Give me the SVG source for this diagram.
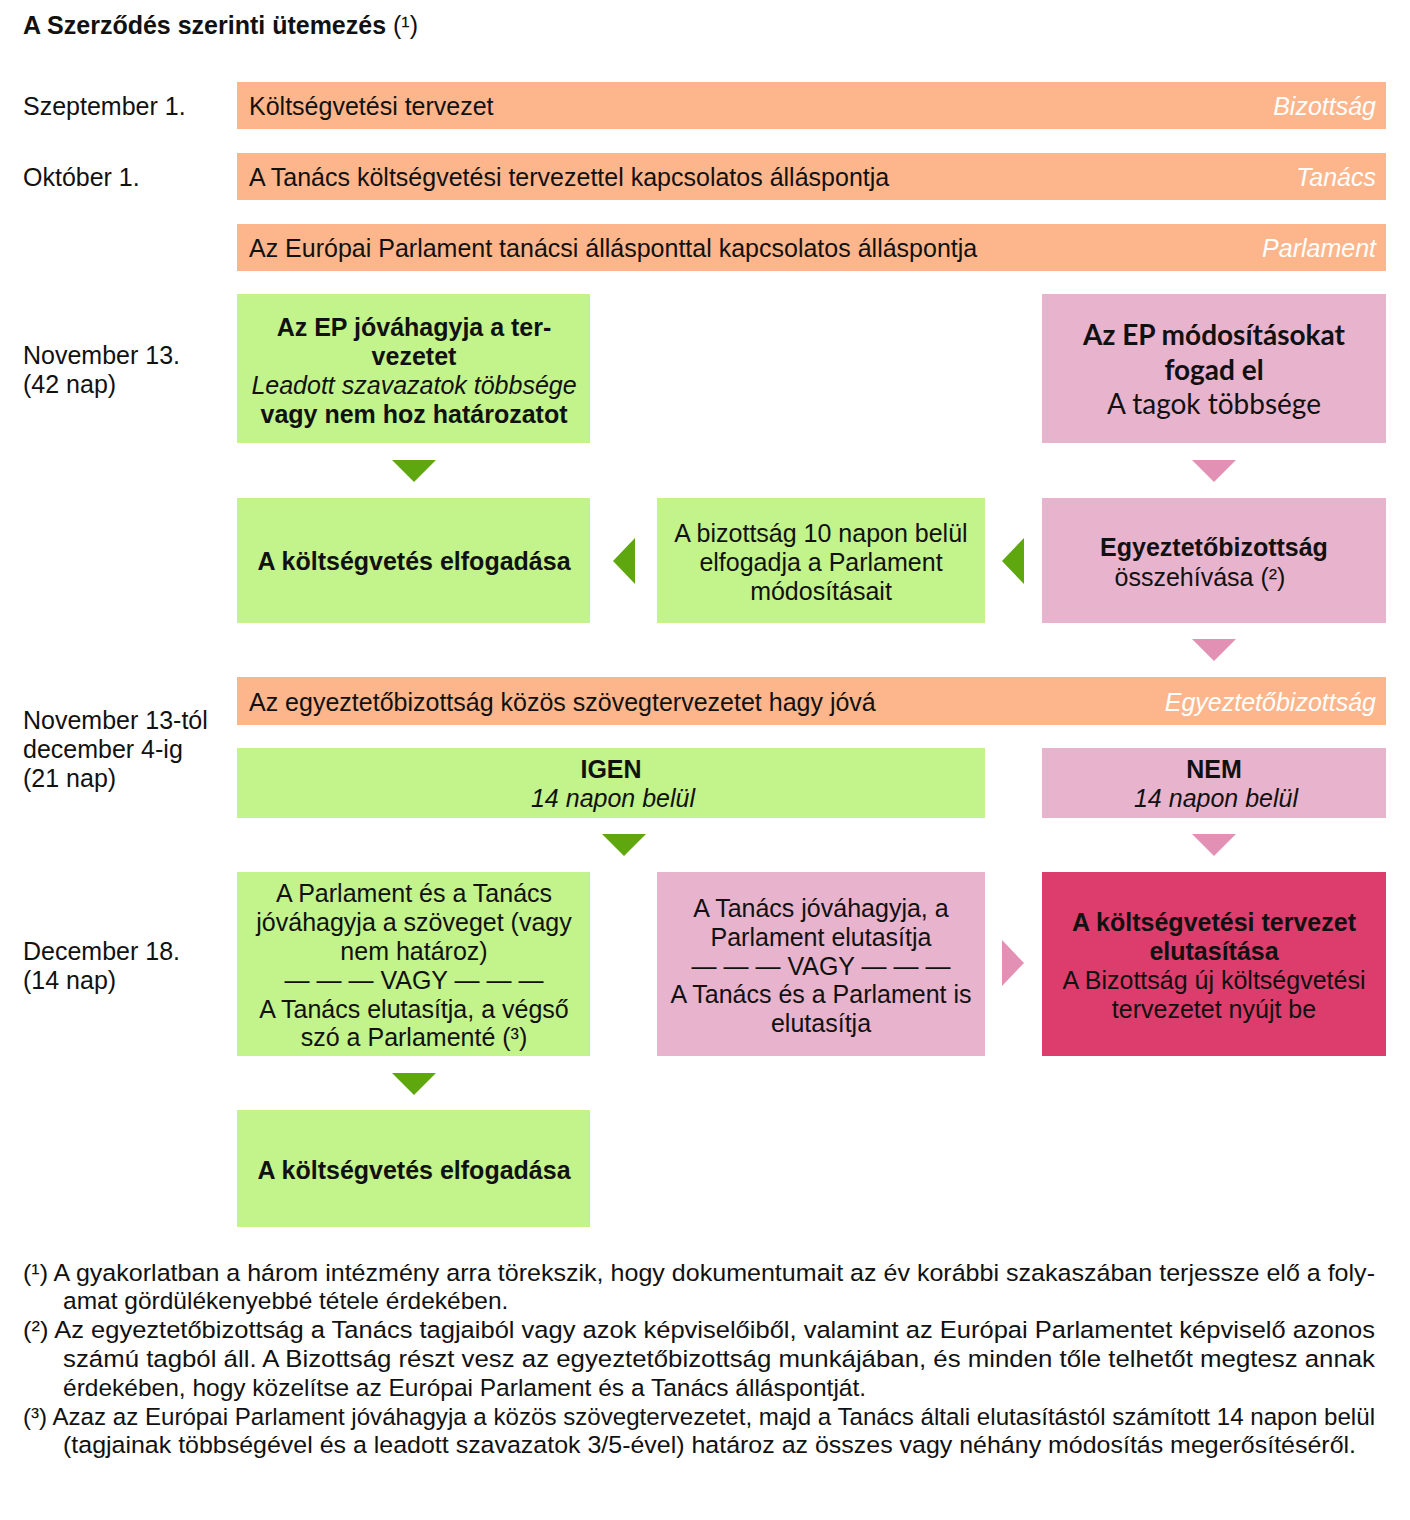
<svg xmlns="http://www.w3.org/2000/svg" width="1410" height="1520" viewBox="0 0 1410 1520">
<style>
text{font-family:"Liberation Sans",Arial,sans-serif;font-size:25px;fill:#111}
.b{font-weight:bold}
.i{font-style:italic}
.c{text-anchor:middle}
.r{text-anchor:end;font-style:italic;fill:#fff}
.cal{font-family:Lato,"Open Sans",sans-serif;font-size:28px}
.fn{font-size:24.5px}
.or{fill:#FDB68B}
.gr{fill:#C3F38B}
.pk{fill:#E8B3CC}
.rd{fill:#DC3D6C}
.ga{fill:#5EA70E}
.pa{fill:#E290B3}
</style>
<rect width="1410" height="1520" fill="#fff"/>
<text x="23" y="34" class="b">A Szerződés szerinti ütemezés<tspan font-weight="normal"> (¹)</tspan></text>

<g id="labels">
<text x="23" y="115">Szeptember 1.</text>
<text x="23" y="186">Október 1.</text>
<text x="23" y="364">November 13.</text>
<text x="23" y="393">(42 nap)</text>
<text x="23" y="729">November 13-tól</text>
<text x="23" y="758">december 4-ig</text>
<text x="23" y="787">(21 nap)</text>
<text x="23" y="960">December 18.</text>
<text x="23" y="989">(14 nap)</text>
</g>

<g id="n1"><rect class="or" x="237" y="82" width="1149" height="47"/><text x="249" y="115">Költségvetési tervezet</text><text x="1376" y="115" class="r">Bizottság</text></g>
<g id="n2"><rect class="or" x="237" y="153" width="1149" height="47"/><text x="249" y="186">A Tanács költségvetési tervezettel kapcsolatos álláspontja</text><text x="1376" y="186" class="r">Tanács</text></g>
<g id="n3"><rect class="or" x="237" y="224" width="1149" height="47"/><text x="249" y="257">Az Európai Parlament tanácsi állásponttal kapcsolatos álláspontja</text><text x="1376" y="257" class="r">Parlament</text></g>

<g id="n4"><rect class="gr" x="237" y="294" width="353" height="149"/>
<text x="414" y="336" class="c b">Az EP jóváhagyja a ter-</text>
<text x="414" y="365" class="c b">vezetet</text>
<text x="414" y="394" class="c i">Leadott szavazatok többsége</text>
<text x="414" y="423" class="c b">vagy nem hoz határozatot</text></g>

<g id="n5"><rect class="pk" x="1042" y="294" width="344" height="149"/>
<text x="1214" y="345" class="c b cal">Az EP módosításokat</text>
<text x="1214" y="380" class="c b cal">fogad el</text>
<text x="1214" y="414" class="c cal">A tagok többsége</text></g>

<g id="n6"><rect class="gr" x="237" y="498" width="353" height="125"/>
<text x="414" y="570" class="c b">A költségvetés elfogadása</text></g>

<g id="n7"><rect class="gr" x="657" y="498" width="328" height="125"/>
<text x="821" y="542" class="c">A bizottság 10 napon belül</text>
<text x="821" y="571" class="c">elfogadja a Parlament</text>
<text x="821" y="600" class="c">módosításait</text></g>

<g id="n8"><rect class="pk" x="1042" y="498" width="344" height="125"/>
<text x="1214" y="556" class="c b">Egyeztetőbizottság</text>
<text x="1200" y="586" class="c">összehívása (²)</text></g>

<g id="n9"><rect class="or" x="237" y="677" width="1149" height="48"/><text x="249" y="711">Az egyeztetőbizottság közös szövegtervezetet hagy jóvá</text><text x="1376" y="711" class="r">Egyeztetőbizottság</text></g>

<g id="n10"><rect class="gr" x="237" y="748" width="748" height="70"/>
<text x="611" y="778" class="c b">IGEN</text>
<text x="613" y="807" class="c i">14 napon belül</text></g>

<g id="n11"><rect class="pk" x="1042" y="748" width="344" height="70"/>
<text x="1214" y="778" class="c b">NEM</text>
<text x="1216" y="807" class="c i">14 napon belül</text></g>

<g id="n12"><rect class="gr" x="237" y="872" width="353" height="184"/>
<text x="414" y="902" class="c">A Parlament és a Tanács</text>
<text x="414" y="931" class="c">jóváhagyja a szöveget (vagy</text>
<text x="414" y="960" class="c">nem határoz)</text>
<text x="414" y="989" class="c" font-size="23">— — — VAGY — — —</text>
<text x="414" y="1018" class="c">A Tanács elutasítja, a végső</text>
<text x="414" y="1046" class="c">szó a Parlamenté (³)</text></g>

<g id="n13"><rect class="pk" x="657" y="872" width="328" height="184"/>
<text x="821" y="917" class="c">A Tanács jóváhagyja, a</text>
<text x="821" y="946" class="c">Parlament elutasítja</text>
<text x="821" y="975" class="c" font-size="23">— — — VAGY — — —</text>
<text x="821" y="1003" class="c">A Tanács és a Parlament is</text>
<text x="821" y="1032" class="c">elutasítja</text></g>

<g id="n14"><rect class="rd" x="1042" y="872" width="344" height="184"/>
<text x="1214" y="931" class="c b">A költségvetési tervezet</text>
<text x="1214" y="960" class="c b">elutasítása</text>
<text x="1214" y="989" class="c">A Bizottság új költségvetési</text>
<text x="1214" y="1018" class="c">tervezetet nyújt be</text></g>

<g id="n15"><rect class="gr" x="237" y="1110" width="353" height="117"/>
<text x="414" y="1179" class="c b">A költségvetés elfogadása</text></g>

<g id="connectors">
<polygon class="ga" points="392,460 436,460 414,482"/>
<polygon class="pa" points="1192,460 1236,460 1214,482"/>
<polygon class="ga" points="635,538 635,584 613,561"/>
<polygon class="ga" points="1024,538 1024,584 1002,561"/>
<polygon class="pa" points="1192,639 1236,639 1214,661"/>
<polygon class="ga" points="602,834 646,834 624,856"/>
<polygon class="pa" points="1192,834 1236,834 1214,856"/>
<polygon class="pa" points="1002,940 1002,986 1024,963"/>
<polygon class="ga" points="392,1073 436,1073 414,1095"/>
</g>

<g id="footnotes">
<text x="23" y="1281" class="fn" textLength="1352" lengthAdjust="spacingAndGlyphs">(¹) A gyakorlatban a három intézmény arra törekszik, hogy dokumentumait az év korábbi szakaszában terjessze elő a foly-</text>
<text x="63" y="1309" class="fn">amat gördülékenyebbé tétele érdekében.</text>
<text x="23" y="1338" class="fn" textLength="1352" lengthAdjust="spacingAndGlyphs">(²) Az egyeztetőbizottság a Tanács tagjaiból vagy azok képviselőiből, valamint az Európai Parlamentet képviselő azonos</text>
<text x="63" y="1367" class="fn" textLength="1312" lengthAdjust="spacingAndGlyphs">számú tagból áll. A Bizottság részt vesz az egyeztetőbizottság munkájában, és minden tőle telhetőt megtesz annak</text>
<text x="63" y="1396" class="fn">érdekében, hogy közelítse az Európai Parlament és a Tanács álláspontját.</text>
<text x="23" y="1425" class="fn" textLength="1352" lengthAdjust="spacingAndGlyphs">(³) Azaz az Európai Parlament jóváhagyja a közös szövegtervezetet, majd a Tanács általi elutasítástól számított 14 napon belül</text>
<text x="63" y="1453" class="fn" textLength="1293" lengthAdjust="spacingAndGlyphs">(tagjainak többségével és a leadott szavazatok 3/5-ével) határoz az összes vagy néhány módosítás megerősítéséről.</text>
</g>
</svg>
